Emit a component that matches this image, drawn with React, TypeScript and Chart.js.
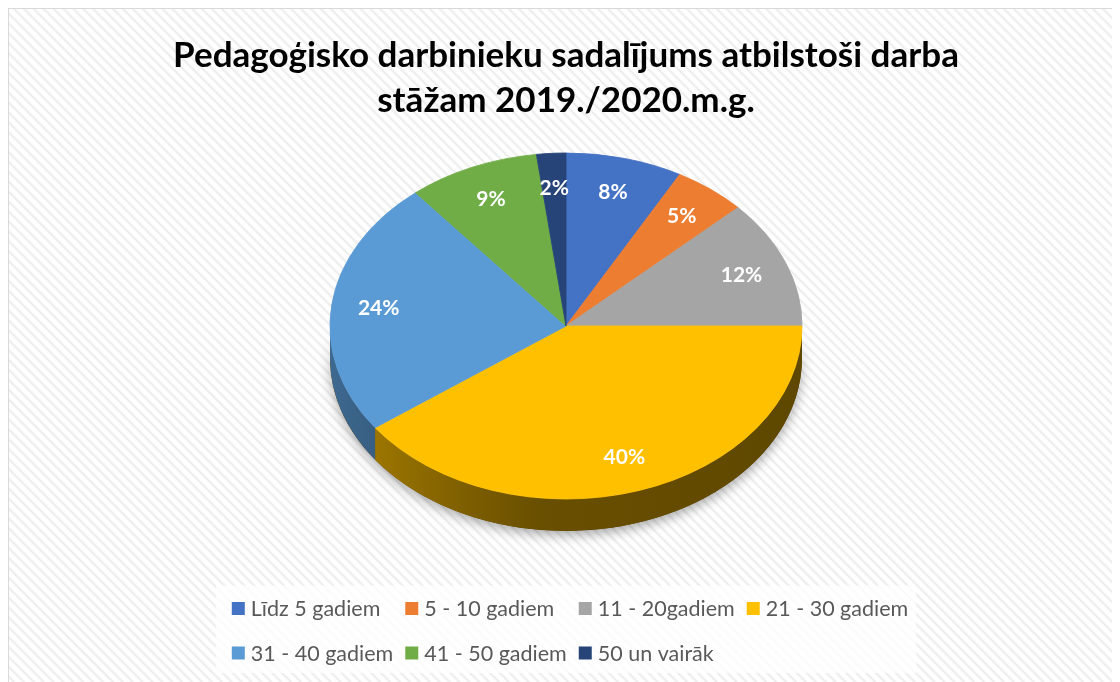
import React, { useEffect, useRef } from 'react';
import { Chart, registerables } from 'chart.js';

Chart.register(...registerables);

const TITLE_LINES = ['Pedagoģisko darbinieku sadalījums atbilstoši darba', 'stāžam 2019./2020.m.g.'];
const CATEGORIES = [
  'Līdz 5 gadiem',
  '5 - 10 gadiem',
  '11 - 20gadiem',
  '21 - 30 gadiem',
  '31 - 40 gadiem',
  '41 - 50 gadiem',
  '50 un vairāk',
];
const SHARES = [8, 5, 12, 40, 24, 9, 2];
const COLORS = ['#4472C4', '#ED7D31', '#A5A5A5', '#FFC000', '#5B9BD5', '#70AD47', '#264478'];

const TILT = 0.733;
const DEPTH = 32;
const RADIUS = 236;
const LABEL_POS = 0.8;
const SIDE_STOPS: [number, number][] = [
  [0, 0.68],
  [0.05, 0.64],
  [0.29, 0.49],
  [0.44, 0.41],
  [1, 0.37],
];

const STRIPES =
  'repeating-linear-gradient(45deg, #ffffff 0px, #ffffff 1.5px, #ebebeb 3.5px, #ffffff 5.5px, #ffffff 7px)';

function shade(hex: string, f: number) {
  const n = parseInt(hex.slice(1), 16);
  const r = Math.round(((n >> 16) & 255) * f);
  const g = Math.round(((n >> 8) & 255) * f);
  const b = Math.round((n & 255) * f);
  return `rgb(${r},${g},${b})`;
}

const pie3d = {
  id: 'pie3d',
  beforeDatasetsDraw(chart: any) {
    const meta = chart.getDatasetMeta(0);
    const arcs = meta.data as any[];
    const ctx = chart.ctx as CanvasRenderingContext2D;
    if (!arcs.length) {
      ctx.save();
      return;
    }
    const cx = arcs[0].x;
    const cy = arcs[0].y;
    const r = arcs[0].outerRadius;
    const ry = r * TILT;

    // soft shadow under the pie body
    ctx.save();
    ctx.shadowColor = 'rgba(0,0,0,0.35)';
    ctx.shadowBlur = 12;
    ctx.shadowOffsetY = 4;
    ctx.beginPath();
    ctx.ellipse(cx, cy, r, ry, 0, 0, Math.PI, false);
    ctx.ellipse(cx, cy + DEPTH, r, ry, 0, Math.PI, 0, true);
    ctx.closePath();
    ctx.fillStyle = '#5a4000';
    ctx.fill();
    ctx.restore();

    // side walls of front-facing slices
    arcs.forEach((arc, i) => {
      const a = Math.max(arc.startAngle, 0);
      const b = Math.min(arc.endAngle, Math.PI);
      if (b <= a) return;
      const grad = ctx.createLinearGradient(cx - r, 0, cx + r, 0);
      SIDE_STOPS.forEach(([p, f]) => grad.addColorStop(p, shade(COLORS[i], f)));
      ctx.beginPath();
      ctx.ellipse(cx, cy, r, ry, 0, a, b, false);
      ctx.ellipse(cx, cy + DEPTH, r, ry, 0, b, a, true);
      ctx.closePath();
      ctx.fillStyle = grad;
      ctx.fill();
    });

    // flatten the top face
    ctx.save();
    ctx.translate(cx, cy);
    ctx.scale(1, TILT);
    ctx.translate(-cx, -cy);
  },
  afterDatasetsDraw(chart: any) {
    const ctx = chart.ctx as CanvasRenderingContext2D;
    ctx.restore();
    const arcs = chart.getDatasetMeta(0).data as any[];
    if (!arcs.length) return;
    const cx = arcs[0].x;
    const cy = arcs[0].y;
    const r = arcs[0].outerRadius;
    const ry = r * TILT;
    const total = SHARES.reduce((x, y) => x + y, 0);
    ctx.save();
    ctx.font = 'bold 21px Lato';
    ctx.fillStyle = '#ffffff';
    ctx.textAlign = 'center';
    ctx.textBaseline = 'middle';
    arcs.forEach((arc, i) => {
      const mid = (arc.startAngle + arc.endAngle) / 2;
      const x = cx + r * LABEL_POS * Math.cos(mid);
      const y = cy + ry * LABEL_POS * Math.sin(mid);
      ctx.fillText(Math.round((SHARES[i] / total) * 100) + '%', x, y);
    });
    ctx.restore();
  },
};

const gridLegend = {
  id: 'gridLegend',
  afterDraw(chart: any) {
    const ctx = chart.ctx as CanvasRenderingContext2D;
    const ca = chart.chartArea;
    const cols = 4;
    const box = 13;
    const gapText = 6;
    const colGap = 12;
    ctx.save();
    ctx.font = '21.5px Lato';
    const widths = CATEGORIES.map((t) => ctx.measureText(t).width);
    const colW: number[] = [];
    for (let c = 0; c < cols; c++) {
      let m = 0;
      for (let i = c; i < CATEGORIES.length; i += cols) m = Math.max(m, box + gapText + widths[i]);
      colW.push(m + colGap);
    }
    const total = colW.reduce((a, b) => a + b, 0) - colGap;
    const centerX = (ca.left + ca.right) / 2 + 4;
    const startX = centerX - total / 2;
    const rowY = [ca.bottom + 89.5, ca.bottom + 134];

    ctx.fillStyle = 'rgba(255,255,255,0.75)';
    ctx.fillRect(startX - 16, rowY[0] - 23, total + 24, rowY[1] - rowY[0] + 43);

    ctx.textAlign = 'left';
    ctx.textBaseline = 'middle';
    CATEGORIES.forEach((label, i) => {
      const c = i % cols;
      const row = Math.floor(i / cols);
      let x = startX;
      for (let k = 0; k < c; k++) x += colW[k];
      const y = rowY[row];
      ctx.fillStyle = COLORS[i];
      ctx.fillRect(x, y - box / 2, box, box);
      ctx.fillStyle = '#595959';
      ctx.fillText(label, x + box + gapText, y + 1);
    });
    ctx.restore();
  },
};

export default function App() {
  const ref = useRef<HTMLCanvasElement>(null);
  useEffect(() => {
    document.body.style.overflow = 'hidden';
    document.documentElement.style.overflow = 'hidden';
    const chart = new Chart(ref.current as HTMLCanvasElement, {
      type: 'pie',
      data: {
        labels: CATEGORIES,
        datasets: [
          {
            data: SHARES,
            backgroundColor: COLORS,
            borderColor: COLORS,
            borderWidth: 1,
            radius: RADIUS,
            clip: false,
          } as any,
        ],
      },
      options: {
        animation: false,
        responsive: true,
        maintainAspectRatio: false,
        events: [],
        layout: { padding: { left: 3, right: 0, top: 0, bottom: 163 } },
        plugins: {
          title: {
            display: true,
            text: TITLE_LINES,
            color: '#000000',
            font: { family: 'Lato', size: 35, weight: 'bold', lineHeight: 1.286 },
            padding: { top: 24, bottom: 10 },
          },
          legend: { display: false },
          tooltip: { enabled: false },
        },
      },
      plugins: [pie3d, gridLegend],
    });
    return () => chart.destroy();
  }, []);
  return (
    <div
      style={{
        position: 'relative',
        margin: '-1px 0 0 -1px',
        width: 1113,
        height: 675,
        boxSizing: 'border-box',
        borderLeft: '2px solid #d9d9d9',
        borderTop: '2px solid #d9d9d9',
        background: STRIPES,
      }}
    >
      <canvas ref={ref} />
    </div>
  );
}
